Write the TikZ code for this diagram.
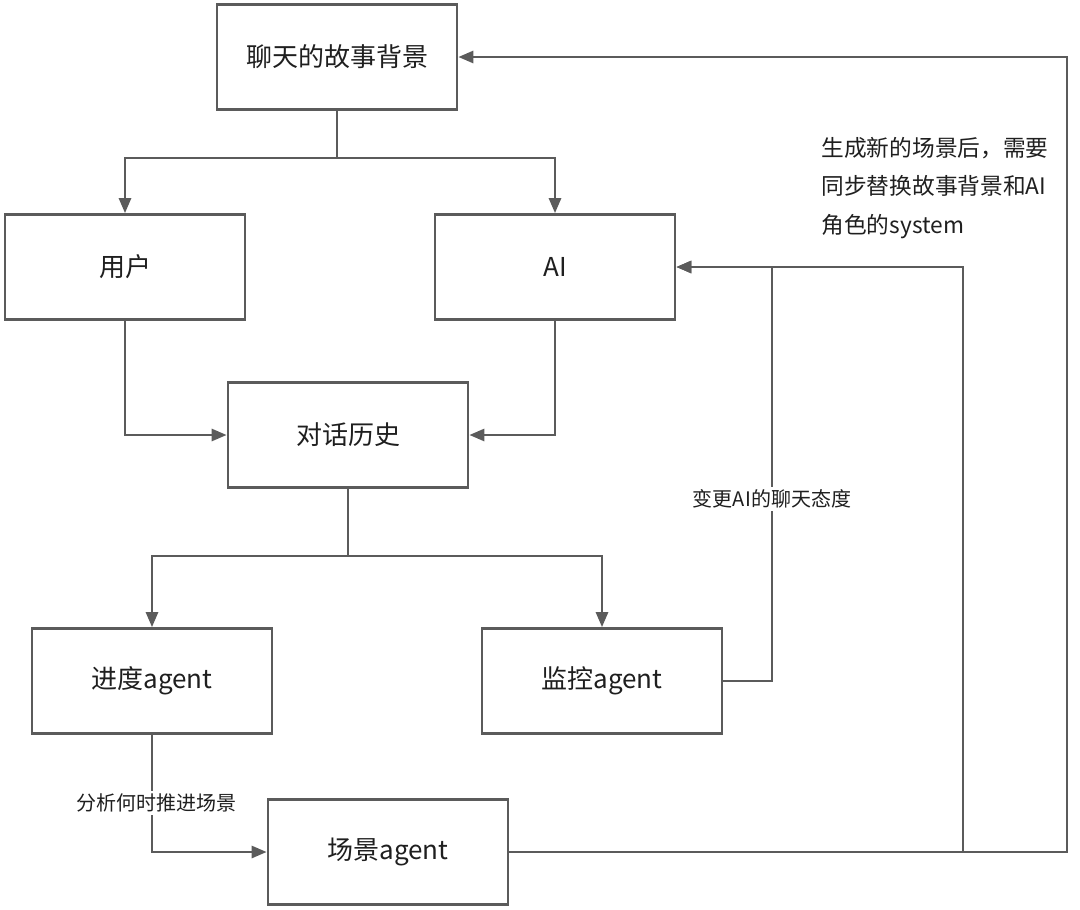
\documentclass[tikz,border=0pt]{standalone}
\usepackage{fontspec}
\setmainfont{Noto Sans CJK SC}
\usetikzlibrary{arrows.meta,positioning}
\definecolor{linegray}{HTML}{5B5B5B}
\definecolor{textdark}{HTML}{1F1F1F}

\begin{document}
\begin{tikzpicture}[x=1pt,y=-1pt,>={Triangle[length=15pt,width=12pt]},
  box/.style={draw=linegray,line width=2.7pt,fill=white,text=textdark,
    minimum width=240pt,minimum height=105pt,inner sep=0pt,
    font=\fontsize{26}{31}\selectfont},
  conn/.style={draw=linegray,line width=2.7pt},
  tag/.style={fill=white,text=textdark,inner sep=3pt,
    font=\fontsize{20}{24}\selectfont}]

  \useasboundingbox (0,0) rectangle (1080,910);

  % boxes
  \node[box] (story) at (337,57)  {聊天的故事背景};
  \node[box] (user)  at (125,267) {用户};
  \node[box] (ai)    at (555,267) {AI};
  \node[box] (hist)  at (348,435) {对话历史};
  \node[box] (prog)  at (152,681) {进度agent};
  \node[box] (mon)   at (602,681) {监控agent};
  \node[box] (scene) at (388,852) {场景agent};

  % turning points
  \coordinate (split1) at (337,158);
  \coordinate (split2) at (348,556);
  \coordinate (turn1)  at (772,681);
  \coordinate (turn2)  at (1067,852);
  \coordinate (branch) at (963,852);

  % story -> user, ai
  \draw[conn] (story) -- (split1);
  \draw[conn,->] (split1) -| (user);
  \draw[conn,->] (split1) -| (ai);
  % user, ai -> history
  \draw[conn,->] (user) |- (hist);
  \draw[conn,->] (ai) |- (hist);
  % history -> agents
  \draw[conn] (hist) -- (split2);
  \draw[conn,->] (split2) -| (prog);
  \draw[conn,->] (split2) -| (mon);
  % monitor -> ai
  \draw[conn,->] (mon) -- (turn1) |- (ai)
    node[tag,pos=0.22] {变更AI的聊天态度};
  % progress -> scene
  \draw[conn,->] (prog) |- (scene)
    node[tag,pos=0.29,xshift=4pt] {分析何时推进场景};
  % scene -> story, ai
  \draw[conn,->] (scene) -- (turn2) |- (story);
  \draw[conn,->] (branch) |- (ai);

  % side note
  \node[text=textdark,align=left,anchor=west,
    font=\fontsize{22.7}{38.5}\selectfont] (note) at (818,188)
    {生成新的场景后，需要\\同步替换故事背景和AI\\角色的system};
\end{tikzpicture}
\end{document}
